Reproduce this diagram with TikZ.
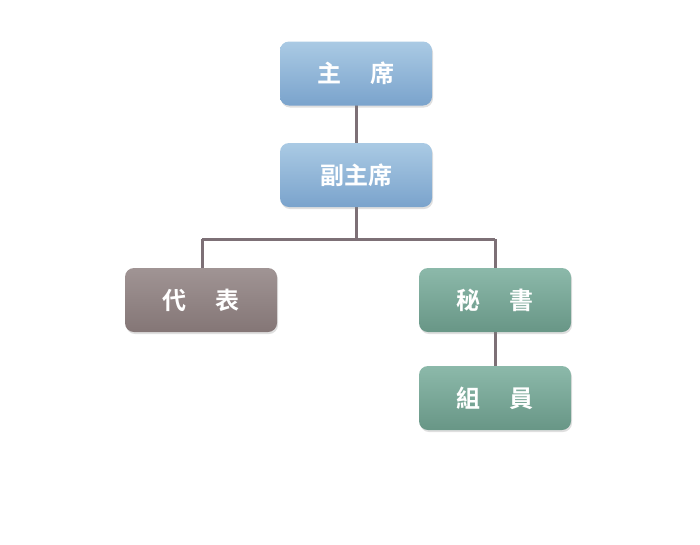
\documentclass[tikz,border=0pt]{standalone}
\usepackage{fontspec}
\newfontfamily\cjk{Noto Sans CJK TC Bold}
\usetikzlibrary{shadows}
\definecolor{btop}{RGB}{170,202,228}
\definecolor{bbot}{RGB}{122,163,204}
\definecolor{gtop}{RGB}{160,148,148}
\definecolor{gbot}{RGB}{132,118,118}
\definecolor{ttop}{RGB}{140,185,170}
\definecolor{tbot}{RGB}{104,150,134}
\definecolor{linec}{RGB}{125,112,118}
\tikzset{
  box/.style={rounded corners=9pt, minimum width=152pt, minimum height=64pt, inner sep=0pt,
    text=white, font=\cjk\fontsize{24}{24}\selectfont, drop shadow={opacity=0.25, shadow xshift=1pt, shadow yshift=-2pt}},
  bluebox/.style={box, top color=btop, bottom color=bbot},
  graybox/.style={box, top color=gtop, bottom color=gbot},
  tealbox/.style={box, top color=ttop, bottom color=tbot},
  conn/.style={draw=linec, line width=3pt}
}
\begin{document}
\begin{tikzpicture}[x=1pt,y=-1pt]
\useasboundingbox (0,0) rectangle (700,544);
\draw[conn] (356,73) -- (356,175);
\draw[conn] (356,175) -- (356,239);
\draw[conn] (202,239) -- (495,239);
\draw[conn] (202,239) -- (202,300);
\draw[conn] (495,239) -- (495,398);
\node[bluebox] (chair) at (356,73.5) {主\hspace{1.2em}席};
\node[bluebox] (vice) at (356,175) {副主席};
\node[graybox] (rep) at (201,300) {代\hspace{1.2em}表};
\node[tealbox] (sec) at (495,300) {秘\hspace{1.2em}書};
\node[tealbox] (mem) at (495,398) {組\hspace{1.2em}員};
\end{tikzpicture}
\end{document}
